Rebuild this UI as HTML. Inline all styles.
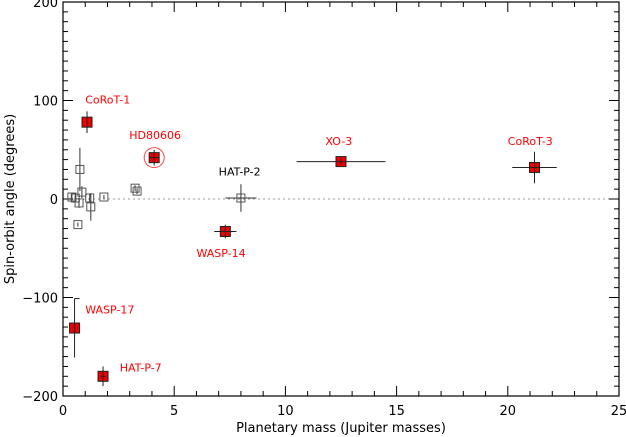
<!DOCTYPE html>
<html><head><meta charset="utf-8"><style>
html,body{margin:0;padding:0;background:#fff;width:626px;height:437px;overflow:hidden}
svg{display:block;font-family:"DejaVu Sans","Liberation Sans",sans-serif}
</style></head><body>
<svg id="c" width="626" height="437"></svg>
<script>
const xTicks=[0,5,10,15,20,25];
const yTicks=[-200,-100,0,100,200];
const filledNames=["CoRoT-1","HD80606","XO-3","CoRoT-3","WASP-14","WASP-17","HAT-P-7"];
const filledMass=[1.08,4.1,12.5,21.2,7.3,0.52,1.8];
const filledAngle=[78,42,38,32,-33,-131,-180];
const filledXErr=[0,0.2,2.0,1.0,0.5,0.05,0.1];
const filledYErr=[11,8,3,16,7,30,10];
const openMass=[0.4,0.55,0.72,0.76,0.85,1.2,1.25,1.84,3.24,3.33,0.67,8.0];
const openAngle=[2,1,-4,30,7,1,-8,2,11,8,-26,1];
const openYErr=[4,5,5,22,6,4,14,2,3,3,2,14];
const openXErr=[0,0,0,0,0,0,0,0,0,0,0,0.7];
const labelNames=["CoRoT-1","HD80606","XO-3","CoRoT-3","WASP-14","WASP-17","HAT-P-7","HAT-P-2"];
const labelMass=[1.0,2.98,11.8,20.0,6.0,1.0,2.55,7.0];
const labelAngle=[97,61,55,55,-59,-116,-175,24];

const L=63,R=619,T=2,B=396;
const X=v=>L+(v-0)/25*(R-L);
const Y=v=>B-(v+200)/400*(B-T);
const NS="http://www.w3.org/2000/svg";
const svg=document.getElementById('c');
function el(t,a,p){const e=document.createElementNS(NS,t);for(const k in a)e.setAttribute(k,a[k]);(p||svg).appendChild(e);return e;}

const z=el('line',{x1:L,x2:R,y1:Y(0),y2:Y(0),stroke:'#999','stroke-dasharray':'2,3','stroke-width':1});



for(let v=0;v<=25;v+=1){const len=(v%5===0)?10:5;
  el('line',{x1:X(v),x2:X(v),y1:B,y2:B-len,stroke:'#000'});
  el('line',{x1:X(v),x2:X(v),y1:T,y2:T+len,stroke:'#000'});}
for(let v=-200;v<=200;v+=10){const len=(v%100===0)?10:5;
  el('line',{x1:L,x2:L+len,y1:Y(v),y2:Y(v),stroke:'#000'});
  el('line',{x1:R,x2:R-len,y1:Y(v),y2:Y(v),stroke:'#000'});}
xTicks.forEach(v=>{const t=el('text',{x:X(v),y:B+19,'text-anchor':'middle','font-size':13});t.textContent=v;
  
  });
yTicks.forEach(v=>{const t=el('text',{x:L-5,y:Y(v)+5,'text-anchor':'end','font-size':13});t.textContent=v===-100||v===-200?'\u2212'+Math.abs(v):v;
  
  });

const box=el('rect',{x:L,y:T,width:R-L,height:B-T,fill:'none',stroke:'#000','stroke-width':1.2});



const xt=el('text',{x:(L+R)/2,y:432,'text-anchor':'middle','font-size':13});xt.textContent='Planetary mass (Jupiter masses)';


const yt=el('text',{x:14,y:(T+B)/2,'text-anchor':'middle','font-size':13,transform:`rotate(-90 14 ${(T+B)/2})`});yt.textContent='Spin-orbit angle (degrees)';



openMass.forEach((m,i)=>{const g=el('g',{});
  
  
  const cx=X(m),cy=Y(openAngle[i]);
  el('line',{x1:cx,x2:cx,y1:Y(openAngle[i]+openYErr[i]),y2:Y(openAngle[i]-openYErr[i]),stroke:'#333'},g);
  if(openXErr[i])el('line',{x1:X(m-openXErr[i]),x2:X(m+openXErr[i]),y1:cy,y2:cy,stroke:'#333'},g);
  el('rect',{x:cx-4,y:cy-4,width:8,height:8,fill:'none',stroke:'#555'},g);});

filledMass.forEach((m,i)=>{const g=el('g',{});
  
  
  const cx=X(m),cy=Y(filledAngle[i]);
  if(filledNames[i]==='HD80606')el('circle',{cx:cx,cy:cy,r:10,fill:'none',stroke:'#f44'},g);
  el('rect',{x:cx-5,y:cy-5,width:10,height:10,fill:'#e00',stroke:'#222'},g);
  el('line',{x1:cx,x2:cx,y1:Y(filledAngle[i]+filledYErr[i]),y2:Y(filledAngle[i]-filledYErr[i]),stroke:'#222'},g);
  if(filledXErr[i])el('line',{x1:X(m-filledXErr[i]),x2:X(m+filledXErr[i]),y1:cy,y2:cy,stroke:'#222'},g);
  if(filledNames[i]==='WASP-17'){const yt2=Y(filledAngle[i]+filledYErr[i]);el('line',{x1:cx,x2:cx+5,y1:yt2,y2:yt2,stroke:'#222'},g);}
});

labelNames.forEach((n,i)=>{const t=el('text',{x:X(labelMass[i]),y:Y(labelAngle[i]),'font-size':11,fill:n==='HAT-P-2'?'#000':'#f00'});
  t.textContent=n;
  
  });
</script>
</body></html>
